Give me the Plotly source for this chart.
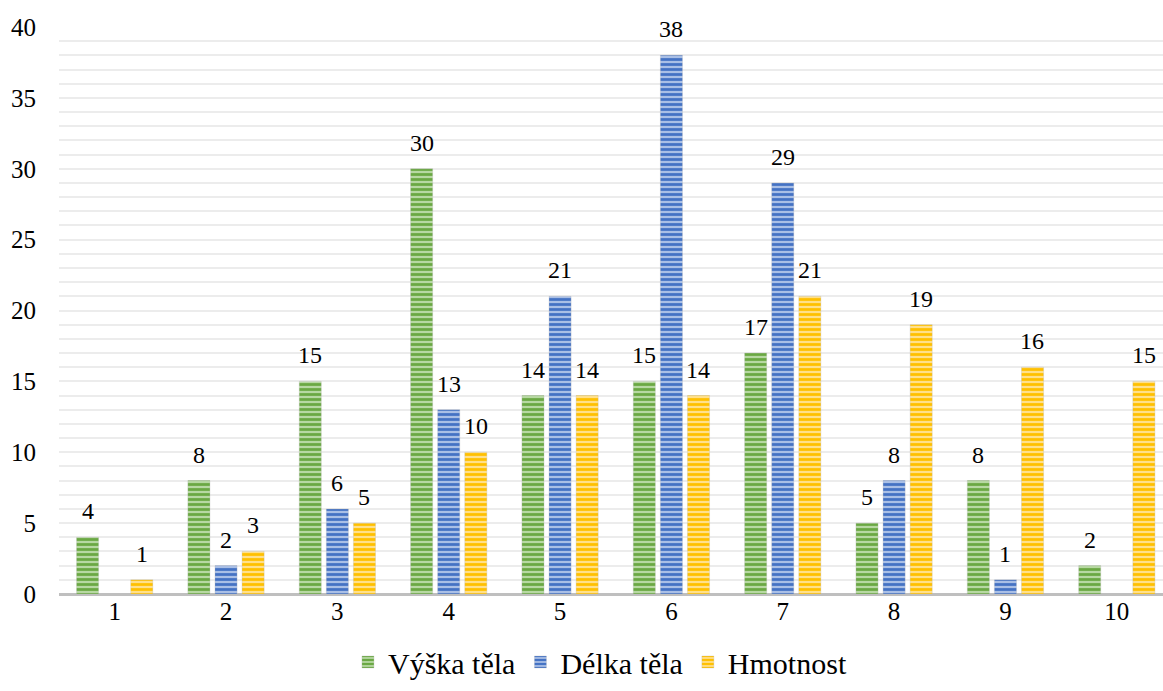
import plotly.graph_objects as go

categories = [1, 2, 3, 4, 5, 6, 7, 8, 9, 10]
vyska = [4, 8, 15, 30, 14, 15, 17, 5, 8, 2]
delka = [None, 2, 6, 13, 21, 38, 29, 8, 1, None]
hmotnost = [1, 3, 5, 10, 14, 14, 21, 19, 16, 15]
series_names = ["Výška těla", "Délka těla", "Hmotnost"]

FONT = "Liberation Serif"

styles = [
    ("#6aa843", "#b7d8a2"),
    ("#4472c4", "#a9bfe6"),
    ("#ffc000", "#ffe08a"),
]

fig = go.Figure()
for name, vals, (fg, bg) in zip(series_names, [vyska, delka, hmotnost], styles):
    fig.add_trace(go.Bar(
        x=categories, y=vals, name=name,
        marker=dict(color=bg, line=dict(width=0.5, color="rgba(180,180,180,0.6)"),
                    pattern=dict(shape="-", fgcolor=fg, bgcolor=bg, size=5, solidity=0.55,
                                 fillmode="replace")),
    ))

offsets = [-27, 0, 27]
for vals, dx in zip([vyska, delka, hmotnost], offsets):
    for c, v in zip(categories, vals):
        if v is None:
            continue
        fig.add_annotation(x=c, y=v, xref="x", yref="y", text=str(v), showarrow=False,
                           xshift=dx, yshift=11, yanchor="bottom",
                           font=dict(family=FONT, size=24, color="#000000"))

fig.update_layout(
    width=1163, height=691,
    margin=dict(l=59, r=0, t=27, b=97, autoexpand=False),
    paper_bgcolor="white", plot_bgcolor="white",
    barmode="group", bargap=0.27, bargroupgap=0.185,
    font=dict(family=FONT, color="#000000"),
    showlegend=True,
    legend=dict(orientation="h", x=0.49, xanchor="center",
                yref="container", y=0.042, yanchor="middle",
                font=dict(family=FONT, size=30), itemwidth=30, traceorder="normal"),
    xaxis=dict(range=[0.5, 10.415], tickvals=categories, ticktext=[str(c) for c in categories],
               showgrid=False, zeroline=False, showline=False, ticks="",
               tickfont=dict(family=FONT, size=25)),
    yaxis=dict(range=[0, 40], dtick=5, showgrid=True, gridcolor="#ececec", gridwidth=2,
               minor=dict(dtick=1, showgrid=True, gridcolor="#ececec", gridwidth=2),
               zeroline=True, zerolinecolor="#bfbfbf", zerolinewidth=3,
               showline=False, ticks="", ticklabelstandoff=22,
               tickfont=dict(family=FONT, size=25)),
)

fig.write_html("out.html")
